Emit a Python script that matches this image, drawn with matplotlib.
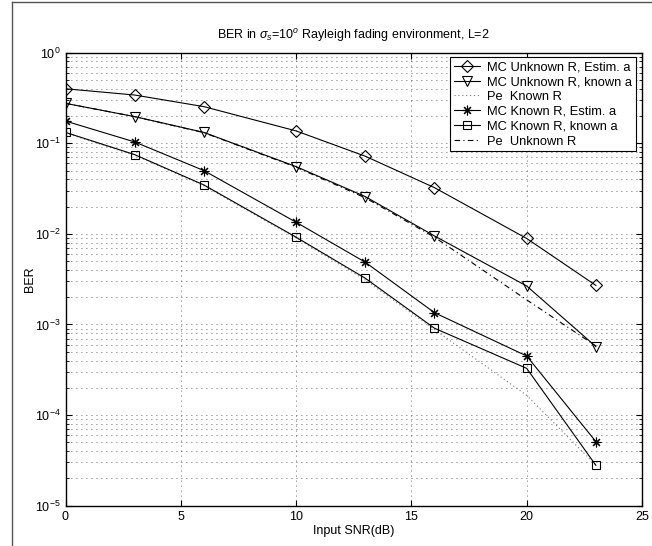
import matplotlib

matplotlib.use("Agg")
import matplotlib.pyplot as plt
from matplotlib.lines import Line2D
from matplotlib.ticker import LogLocator, LogFormatterMathtext, MultipleLocator, NullFormatter

plt.rcParams["font.family"] = ["Liberation Sans", "DejaVu Sans"]
plt.rcParams["mathtext.fontset"] = "custom"
plt.rcParams["mathtext.rm"] = "Liberation Sans"
plt.rcParams["mathtext.it"] = "Liberation Sans:italic"
plt.rcParams["font.size"] = 8

# input SNR (dB)
snr = [0, 3, 6, 10, 13, 16, 20, 23]

mc_unk_est = [0.40, 0.341, 0.254, 0.137, 0.072, 0.0324, 0.0089, 0.0027]
mc_unk_known = [0.276, 0.197, 0.132, 0.0553, 0.0258, 0.0095, 0.00266, 0.00057]
pe_known = [0.130, 0.074, 0.034, 0.0090, 0.0031, 0.00088, 0.000165, 0.000028]
mc_known_est = [0.176, 0.1035, 0.050, 0.01345, 0.00487, 0.00135, 0.000449, 0.000051]
mc_known_known = [0.132, 0.075, 0.0347, 0.0092, 0.00324, 0.00091, 0.000328, 0.0000279]
pe_unknown = [0.276, 0.197, 0.131, 0.0545, 0.0250, 0.0092, 0.00187, 0.00058]

labels = ["MC Unknown R, Estim. a", "MC Unknown R, known a", "Pe  Known R",
          "MC Known R, Estim. a", "MC Known R, known a", "Pe  Unknown R"]

fig = plt.figure(figsize=(6.52, 5.46), dpi=100)
ax = fig.add_axes([65.5 / 652, 1 - 505.7 / 546, (642 - 65.5) / 652, (505.7 - 52.7) / 546])

star = (8, 2, 0)
kw = dict(color="black", lw=0.8, mfc="none", mec="black", mew=0.8)
h1, = ax.semilogy(snr, mc_unk_est, marker="D", ms=5.8, **kw)
h2, = ax.semilogy(snr, mc_unk_known, marker="v", ms=7.5, **kw)
h3, = ax.semilogy(snr, pe_known, color="#777777", lw=0.8, linestyle=(0, (1, 2.5)))
h4, = ax.semilogy(snr, mc_known_est, marker=star, ms=7, **kw)
h5, = ax.semilogy(snr, mc_known_known, marker="s", ms=5.8, **kw)
h6, = ax.semilogy(snr, pe_unknown, color="black", lw=0.8, linestyle=(0, (5, 3, 1, 3)))

ax.set_xlim(0, 25)
ax.set_ylim(1e-5, 1)
ax.xaxis.set_major_locator(MultipleLocator(5))
ax.yaxis.set_major_locator(LogLocator(base=10, numticks=10))
ax.yaxis.set_major_formatter(LogFormatterMathtext())
ax.yaxis.set_minor_locator(LogLocator(base=10, subs=range(2, 10), numticks=20))
ax.yaxis.set_minor_formatter(NullFormatter())

ax.grid(True, which="major", axis="both", color="#333333", linestyle=(0, (1, 5)), lw=0.6)
ax.grid(True, which="minor", axis="y", color="#333333", linestyle=(0, (1, 5)), lw=0.6)
ax.tick_params(which="both", direction="in", top=True, right=True, labelsize=9)
ax.tick_params(which="major", length=4)
ax.tick_params(which="minor", length=2)
for sp in ax.spines.values():
    sp.set_linewidth(1.0)

ax.set_xlabel("Input SNR(dB)", fontsize=9, labelpad=2)
ax.set_ylabel("BER", fontsize=9, labelpad=-1)
ax.set_title(r"BER in $\sigma_s$=10$^o$ Rayleigh fading environment, L=2", fontsize=9, pad=10)

leg = ax.legend([h1, h2, h3, h4, h5, h6], labels, loc="upper right",
                bbox_to_anchor=(0.99, 0.99), fontsize=9.3, fancybox=False,
                edgecolor="black", framealpha=1, handlelength=2.0, handletextpad=0.6,
                labelspacing=0.22, borderpad=0.3, borderaxespad=0)
leg.get_frame().set_linewidth(0.8)

# screenshot frame
fig.add_artist(Line2D([12 / 652, 12 / 652], [0, 1 - 1.5 / 546], transform=fig.transFigure,
                      color="#555555", lw=1.0))
fig.add_artist(Line2D([12 / 652, 1], [1 - 1.5 / 546, 1 - 1.5 / 546], transform=fig.transFigure,
                      color="#555555", lw=1.0))

fig.savefig("out.png", dpi=100)
